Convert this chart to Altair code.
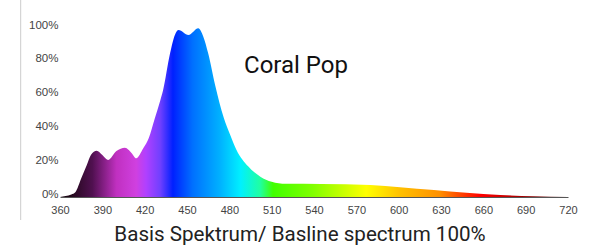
import altair as alt
import pandas as pd

# spectrum (wavelength nm, relative intensity)
wavelength = [360, 364, 368, 371, 375, 379, 382, 386, 390, 394, 400, 406, 411, 414, 419,
              423, 427, 431, 433, 438, 441.5, 444, 451, 458, 461.5, 465, 470, 476, 480.5, 485,
              493.5, 502, 510, 520, 545, 580, 601, 625, 648, 672, 695, 720]
intensity = [0.0, 0.006, 0.015, 0.03, 0.11, 0.19, 0.25, 0.274, 0.248, 0.219, 0.272, 0.292, 0.258, 0.229, 0.288,
             0.35, 0.46, 0.57, 0.63, 0.85, 0.96, 0.988, 0.958, 0.998, 0.95, 0.85, 0.66, 0.47, 0.37, 0.28,
             0.18, 0.12, 0.09, 0.078, 0.077, 0.071, 0.058, 0.041, 0.025, 0.012, 0.004, 0.0]

x_ticks = [360, 390, 420, 450, 480, 510, 540, 570, 600, 630, 660, 690, 720]
y_ticks = [0, 0.2, 0.4, 0.6, 0.8, 1.0]

# colour stops of the spectrum fill (nm, colour)
stop_nm = [360, 367, 383, 400, 414, 421, 431, 440, 454, 473, 488, 502, 511, 539, 577, 601, 629, 648, 658, 684, 707, 720]
stop_col = ["#1a0814", "#200818", "#501050", "#c030c0", "#d040e0", "#b040ff", "#7040ff", "#0020ff",
            "#0070ff", "#00b0ff", "#00f0ff", "#20ffa0", "#40ff00", "#80ff00", "#ffff00", "#ffc000",
            "#ff9000", "#ff3000", "#ff0000", "#b00000", "#600000", "#300000"]

title_text = "Basis Spektrum/ Basline spectrum 100%"
label_text = "Coral Pop"

df = pd.DataFrame({"wl": wavelength, "val": intensity})

stops = [alt.GradientStop(offset=(n - 360) / 360, color=c) for n, c in zip(stop_nm, stop_col)]

area = alt.Chart(df).mark_area(
    interpolate="monotone",
    color=alt.Gradient(gradient="linear", stops=stops, x1=0, x2=1, y1=0, y2=0),
).encode(
    x=alt.X("wl:Q", scale=alt.Scale(domain=[360, 720], nice=False, zero=False),
            axis=alt.Axis(values=x_ticks, title=None, grid=False, ticks=False,
                          domainColor="#555555", domainWidth=1, labelPadding=7,
                          labelFont="Liberation Sans", labelFontSize=11, labelColor="#444444",
                          labelFlush=False)),
    y=alt.Y("val:Q", scale=alt.Scale(domain=[0, 1], nice=False),
            axis=alt.Axis(values=y_ticks, format=".0%", title=None, grid=False, ticks=False,
                          domain=False, labelPadding=2, labelBaseline="alphabetic",
                          labelFont="Liberation Sans", labelFontSize=11.5, labelColor="#444444")),
)

title = alt.Chart(pd.DataFrame({"t": [title_text]})).mark_text(
    font="Roboto", fontSize=20.6, color="#222222", align="center", baseline="alphabetic"
).encode(text="t:N", x=alt.value(240), y=alt.value(212.7))

label = alt.Chart(pd.DataFrame({"t": [label_text]})).mark_text(
    font="Roboto", fontSize=24, color="#111111", align="center", baseline="alphabetic"
).encode(text="t:N", x=alt.value(236), y=alt.value(44.7))

border = alt.Chart(pd.DataFrame({"a": [0]})).mark_rule(color="#cccccc", strokeWidth=1).encode(
    x=alt.value(-39.3), y=alt.value(-28), y2=alt.value(192)
)

chart = alt.layer(border, area, title, label).properties(
    width=508, height=169,
    autosize=alt.AutoSizeParams(type="none"),
    padding={"left": 60, "top": 28, "right": 32, "bottom": 50},
    background="white",
).configure_view(stroke=None)

chart.save("out.html", embed_options={"renderer": "svg", "actions": False})
